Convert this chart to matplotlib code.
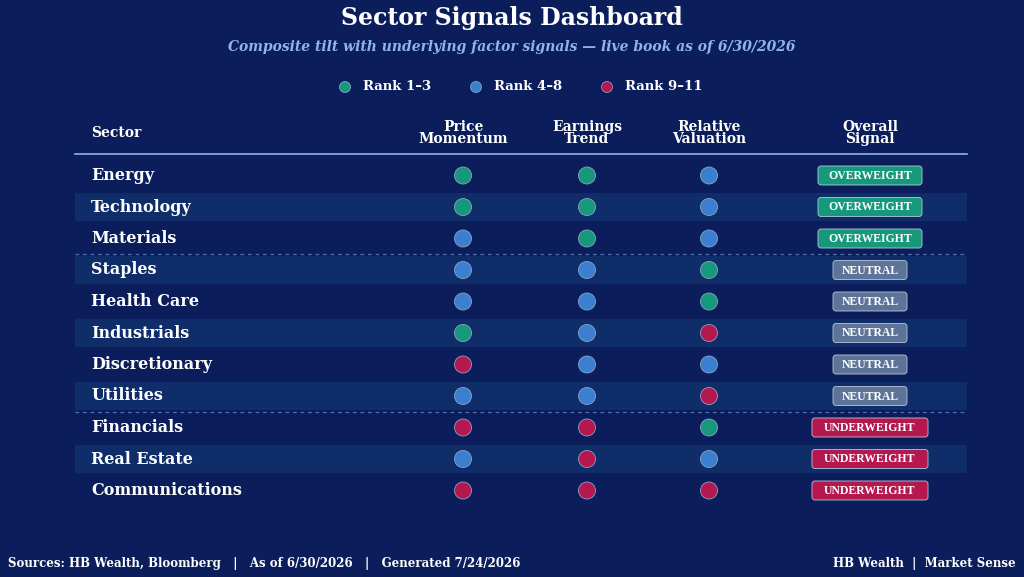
import matplotlib.pyplot as plt
from matplotlib.patches import Rectangle, FancyBboxPatch, Circle

sectors = ["Energy", "Technology", "Materials", "Staples", "Health Care", "Industrials",
           "Discretionary", "Utilities", "Financials", "Real Estate", "Communications"]
# rank bucket per factor: 0 = Rank 1-3, 1 = Rank 4-8, 2 = Rank 9-11
price_momentum = [0, 0, 1, 1, 1, 0, 2, 1, 2, 1, 2]
earnings_trend = [0, 0, 0, 1, 1, 1, 1, 1, 2, 2, 2]
relative_valuation = [1, 1, 1, 0, 0, 2, 1, 2, 0, 1, 2]
signals = ["OVERWEIGHT"] * 3 + ["NEUTRAL"] * 5 + ["UNDERWEIGHT"] * 3
legend_labels = ["Rank 1–3", "Rank 4–8", "Rank 9–11"]

BG = "#0b1e5b"
BAND = "#0f2d68"
dot_colors = ["#16987a", "#3a7fd0", "#b5174f"]
badge_colors = {"OVERWEIGHT": "#16987a", "NEUTRAL": "#5d7398", "UNDERWEIGHT": "#b5174f"}
SERIF = "DejaVu Serif"

fig = plt.figure(figsize=(10.24, 5.77), dpi=100, facecolor=BG)
ax = fig.add_axes([0, 0, 1, 1])
ax.set_xlim(0, 1024)
ax.set_ylim(577, 0)
ax.axis("off")
ax.set_facecolor(BG)

ax.text(512, 18, "Sector Signals Dashboard", ha="center", va="center", color="white",
        fontsize=17, fontweight="bold", family=SERIF)
ax.text(512, 47, "Composite tilt with underlying factor signals — live book as of 6/30/2026",
        ha="center", va="center", color="#8fb4e6", fontsize=10, fontweight="bold",
        style="italic", family=SERIF)

# legend
for lx, lab, c in zip([345, 476, 607], legend_labels, dot_colors):
    ax.add_patch(Circle((lx, 87), 5.5, color=c, ec="#9fb0d0", lw=0.5))
    ax.text(lx + 18, 87, lab, ha="left", va="center", color="white", fontsize=9.5,
            fontweight="bold", family=SERIF)

cols = [463, 587, 709]
headers = ["Price\nMomentum", "Earnings\nTrend", "Relative\nValuation"]
ax.text(91, 133, "Sector", ha="left", va="center", color="white", fontsize=10,
        fontweight="bold", family=SERIF)
for cx, h in zip(cols + [870], headers + ["Overall\nSignal"]):
    ax.text(cx, 133, h, ha="center", va="center", color="white", fontsize=10,
            fontweight="bold", family=SERIF, linespacing=0.9)
ax.plot([75, 967], [153.5, 153.5], color="#8fb4e6", lw=1.2)

y0, dy = 175.5, 31.5
for i, name in enumerate(sectors):
    y = y0 + i * dy
    if i % 2 == 1:
        ax.add_patch(Rectangle((75, y - 14), 892, 28, color=BAND, lw=0))
    ax.text(91, y, name, ha="left", va="center", color="white", fontsize=11.5,
            fontweight="bold", family=SERIF)
    for cx, series in zip(cols, [price_momentum, earnings_trend, relative_valuation]):
        ax.add_patch(Circle((cx, y), 8.5, color=dot_colors[series[i]], ec="#8ea2c8", lw=0.6))
    s = signals[i]
    w = {"OVERWEIGHT": 104, "NEUTRAL": 74, "UNDERWEIGHT": 116}[s]
    ax.add_patch(FancyBboxPatch((870 - w / 2, y - 9.5), w, 19,
                                boxstyle="round,pad=0,rounding_size=3",
                                fc=badge_colors[s], ec="#b9c6dd", lw=0.6))
    ax.text(870, y + 0.5, s, ha="center", va="center", color="white", fontsize=8.5,
            fontweight="bold", family="Liberation Serif")

for ys in [y0 + 2.5 * dy, y0 + 7.5 * dy]:
    ax.plot([75, 967], [ys, ys], color="#4f6fae", lw=0.9, ls=(0, (3, 3)))

ax.text(8, 563, "Sources: HB Wealth, Bloomberg   |   As of 6/30/2026   |   Generated 7/24/2026",
        ha="left", va="center", color="white", fontsize=8.5, fontweight="bold", family=SERIF)
ax.text(1016, 563, "HB Wealth  |  Market Sense", ha="right", va="center", color="white",
        fontsize=8.5, fontweight="bold", family=SERIF)

fig.savefig("out.png", dpi=100, facecolor=BG)
